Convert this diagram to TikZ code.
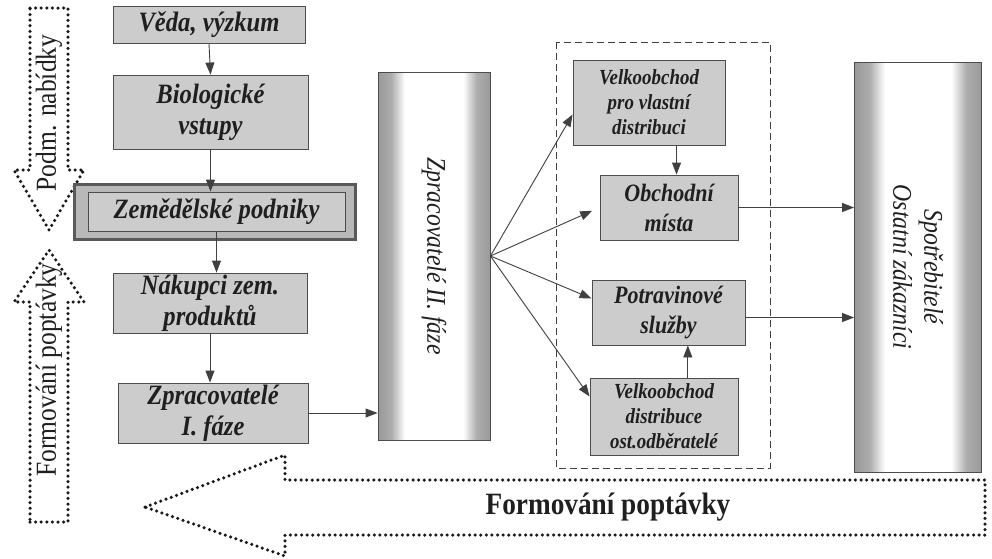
\documentclass[tikz,border=0pt]{standalone}
\usepackage{fontspec}
\setmainfont{Liberation Serif}
\newfontfamily\cfont[FakeStretch=0.88]{Liberation Serif}
\usetikzlibrary{arrows.meta,calc}
\pgfdeclarehorizontalshading{bands}{100bp}{color(0bp)=(black!40); color(25bp)=(black!40); color(31bp)=(black!32); color(37bp)=(white); color(63bp)=(white); color(69bp)=(black!32); color(75bp)=(black!40); color(100bp)=(black!40)}
\tikzset{
  box/.style={draw=black!70, line width=0.9pt, fill=black!20, inner sep=0pt, align=center,
    text=black!88, font=\cfont\bfseries\itshape\fontsize{28}{31}\selectfont},
  sbox/.style={box, font=\cfont\bfseries\itshape\fontsize{21.5}{25}\selectfont},
  mbox/.style={box, font=\cfont\bfseries\itshape\fontsize{25}{30}\selectfont},
  bar/.style={draw=black!70, line width=0.9pt, inner sep=0pt, shading=bands},
  arr/.style={draw=black!75, line width=0.9pt, -{Triangle[length=12pt,width=9pt]}},
  dotarrow/.style={draw=black!90, line width=3.5pt, line cap=round, dash pattern=on 0pt off 5.6pt},
  vtext/.style={text=black!88, font=\cfont\itshape\fontsize{27}{31}\selectfont, align=center},
  ltext/.style={text=black!88, font=\cfont\fontsize{29}{31}\selectfont}
}
\begin{document}
\begin{tikzpicture}[x=1pt,y=-1pt]
\useasboundingbox (0,0) rectangle (992,558);
\fill[white] (0,0) rectangle (992,558);

% left dotted double arrow
\draw[dotarrow] (30,8) -- (68,8) -- (68,170) -- (84,170) -- (49,230) -- (14,170) -- (30,170) -- cycle;
\draw[dotarrow] (30,522) -- (68,522) -- (68,302) -- (84,302) -- (49,250) -- (14,302) -- (30,302) -- cycle;
\node[rotate=90, ltext] (podm) at (49,113) {Podm. nabídky};
\node[rotate=90, ltext] (form) at (49,370) {Formování poptávky};

% bottom dotted arrow
\draw[dotarrow] (145,507) -- (285,455) -- (285,480) -- (985,480) -- (985,535) -- (285,535) -- (285,556) -- cycle;
\node[text=black!88, font=\cfont\bfseries\fontsize{31}{33}\selectfont] (formb) at (608,507) {Formování poptávky};

% left column
\node[box, minimum width=192pt, minimum height=37pt] (veda) at (209,25) {Věda, výzkum};
\node[box, minimum width=195pt, minimum height=74pt] (bio) at (210.5,112) {Biologické\\vstupy};
\node[draw=black!65, line width=3pt, fill=black!28, minimum width=281pt, minimum height=55pt, inner sep=0pt] (zemo) at (214.5,211.5) {};
\node[box, minimum width=257pt, minimum height=39pt] (zem) at (216.5,211.5) {Zemědělské podniky};
\node[box, minimum width=194pt, minimum height=60pt] (nak) at (210,303) {Nákupci zem.\\produktů};
\node[box, minimum width=190pt, minimum height=60pt] (zp1) at (213,413) {Zpracovatelé\\I. fáze};

\draw[arr] (veda.south) -- (bio.north);
\draw[arr] (bio.south) -- (zem.north -| bio.south);
\draw[arr] (zem.south) -- (nak.north -| zem.south);
\draw[arr] (nak.south) -- (zp1.north -| nak.south);

% Zpracovatele II. faze
\node[bar, minimum width=112pt, minimum height=368pt] (zp2) at (434,256) {};
\node[vtext, rotate=-90] (zp2t) at (zp2.center) {Zpracovatelé II. fáze};
\draw[arr] (zp1.east) -- (zp1.east -| zp2.west);

% dashed group
\draw[draw=black!75, line width=0.9pt, dash pattern=on 7pt off 4pt] (556,42) rectangle (770,468);
\node[sbox, minimum width=152pt, minimum height=85pt] (v1) at (649,102.5) {Velkoobchod\\pro vlastní\\distribuci};
\node[mbox, minimum width=138pt, minimum height=65pt] (ob) at (669,207.5) {Obchodní\\místa};
\node[mbox, minimum width=153pt, minimum height=65pt] (po) at (668.5,312.5) {Potravinové\\služby};
\node[sbox, minimum width=148pt, minimum height=77pt] (v2) at (664,416.5) {Velkoobchod\\distribuce\\ost.odběratelé};

\coordinate (fan) at (zp2.east);
\draw[arr] (fan) -- ([yshift=-12pt]v1.west);
\draw[arr, shorten >=8pt] (fan) -- (ob.west);
\draw[arr] (fan) -- ([yshift=14pt]po.west);
\draw[arr] (fan) -- ([yshift=20pt]v2.west);

\coordinate (a1) at ($(v1.south west)!0.68!(v1.south east)$);
\draw[arr] (a1) -- (a1 |- ob.north);
\coordinate (a2) at ($(v2.north west)!0.66!(v2.north east)$);
\draw[arr] (a2) -- (a2 |- po.south);

% Spotrebitele
\node[bar, minimum width=127pt, minimum height=410pt] (sp) at (918,267) {};
\node[vtext, rotate=-90] (spt) at (sp.center) {Spotřebitelé\\Ostatní zákazníci};
\draw[arr] (ob.east) -- (ob.east -| sp.west);
\draw[arr] ([yshift=-5pt]po.east) -- ([yshift=-5pt]po.east -| sp.west);
\end{tikzpicture}
\end{document}
